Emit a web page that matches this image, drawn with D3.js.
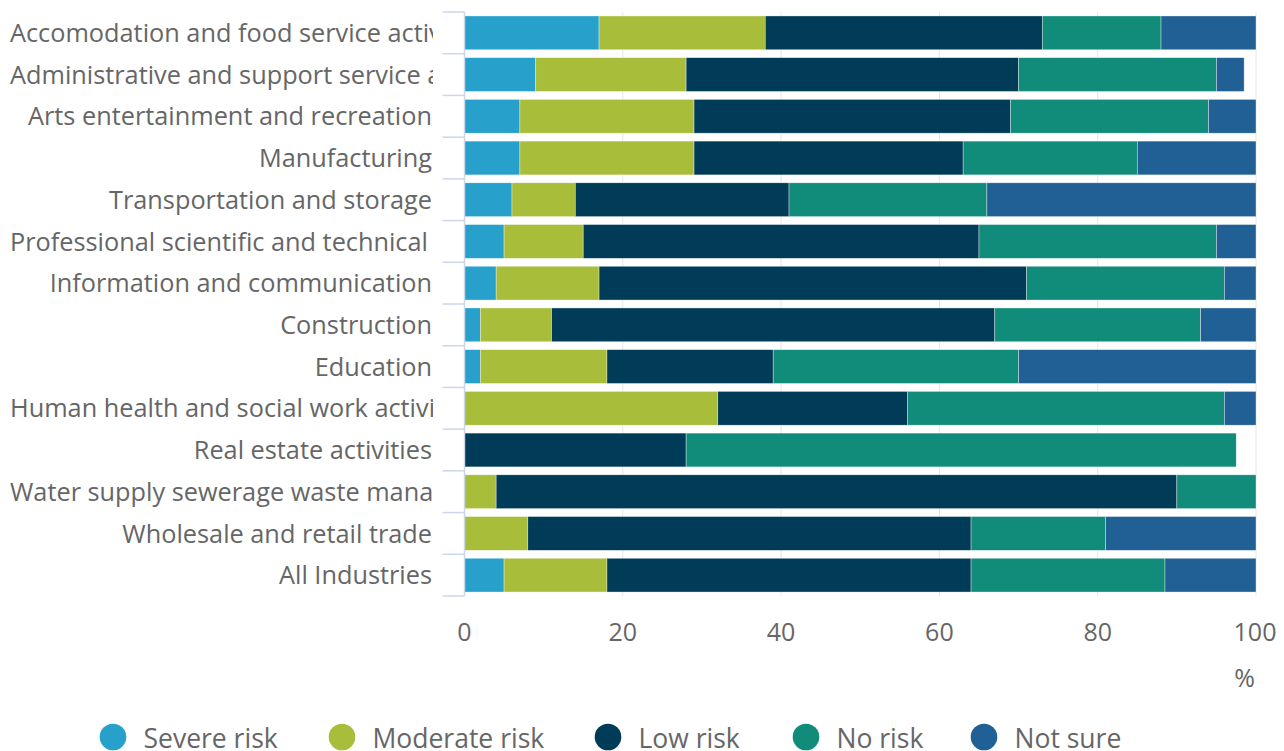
<!DOCTYPE html>
<html>
<head>
<meta charset="utf-8">
<script src="https://cdn.jsdelivr.net/npm/d3@7"></script>
<style>
  html, body { margin: 0; padding: 0; background: #fff; }
  svg { display: block; font-family: "Open Sans", sans-serif; }
</style>
</head>
<body>
<svg id="chart" width="1284" height="751"></svg>
<script>
// Share of businesses by perceived risk level, per industry (%)
const categories = [
  "Accomodation and food service activities",
  "Administrative and support service activities",
  "Arts entertainment and recreation",
  "Manufacturing",
  "Transportation and storage",
  "Professional scientific and technical activities",
  "Information and communication",
  "Construction",
  "Education",
  "Human health and social work activities",
  "Real estate activities",
  "Water supply sewerage waste management",
  "Wholesale and retail trade",
  "All Industries"
];
const seriesNames = ["Severe risk", "Moderate risk", "Low risk", "No risk", "Not sure"];
const severeRisk   = [17, 9, 7, 7, 6, 5, 4, 2, 2, 0, 0, 0, 0, 5];
const moderateRisk = [21, 19, 22, 22, 8, 10, 13, 9, 16, 32, 0, 4, 8, 13];
const lowRisk      = [35, 42, 40, 34, 27, 50, 54, 56, 21, 24, 28, 86, 56, 46];
const noRisk       = [15, 25, 25, 22, 25, 30, 25, 26, 31, 40, 69.5, 10, 17, 24.5];
const notSure      = [12, 3.5, 6, 15, 34, 5, 4, 7, 30, 4, 0, 0, 19, 11.5];
const xTicks = [0, 20, 40, 60, 80, 100];
const colors = ["#27a0cc", "#a8bd3a", "#003c57", "#118c7b", "#206095"];

const seriesValues = [severeRisk, moderateRisk, lowRisk, noRisk, notSure];
const rows = categories.map((c, i) => {
  const r = { category: c };
  seriesNames.forEach((s, k) => { r[s] = seriesValues[k][i]; });
  return r;
});
const stacked = d3.stack().keys(seriesNames)(rows);

const svg = d3.select("#chart");
const plot = { left: 464.5, right: 1256, top: 12, bottom: 596 };

const x = d3.scaleLinear().domain([0, 100]).range([plot.left, plot.right]);
const y = d3.scaleBand().domain(categories).range([plot.top, plot.bottom]).paddingInner(0.19).paddingOuter(0.095);

// vertical grid lines
svg.append("g")
  .selectAll("line")
  .data(xTicks)
  .join("line")
  .attr("x1", d => x(d)).attr("x2", d => x(d))
  .attr("y1", plot.top).attr("y2", plot.bottom)
  .attr("stroke", "#e6e6e6").attr("stroke-width", 1);

// stacked bars
svg.append("g")
  .selectAll("g")
  .data(stacked)
  .join("g")
  .attr("fill", (d, i) => colors[i])
  .selectAll("rect")
  .data(d => d.filter(p => p[1] - p[0] > 0))
  .join("rect")
  .attr("x", d => x(d[0]))
  .attr("width", d => x(d[1]) - x(d[0]))
  .attr("y", d => y(d.data.category))
  .attr("height", y.bandwidth())
  .attr("stroke", "#ffffff").attr("stroke-width", 0.6).attr("stroke-opacity", 0.6);

// category axis: line plus ticks between categories
const axisColor = "#ccd6eb";
const yAxis = svg.append("g");
yAxis.append("line")
  .attr("x1", plot.left).attr("x2", plot.left)
  .attr("y1", plot.top).attr("y2", plot.bottom)
  .attr("stroke", axisColor).attr("stroke-width", 1.5);
const boundaries = d3.range(categories.length + 1).map(i => plot.top + i * y.step());
yAxis.selectAll("line.tick")
  .data(boundaries)
  .join("line")
  .attr("class", "tick")
  .attr("x1", plot.left - 22).attr("x2", plot.left)
  .attr("y1", d => d).attr("y2", d => d)
  .attr("stroke", axisColor).attr("stroke-width", 1.5);

// category labels, clipped at the axis
const labelRight = 432;
svg.append("defs").append("clipPath").attr("id", "labelClip")
  .append("rect").attr("x", 0).attr("y", 0).attr("width", labelRight + 1).attr("height", 751);
const labels = svg.append("g").attr("clip-path", "url(#labelClip)")
  .selectAll("text")
  .data(categories)
  .join("text")
  .attr("y", d => y(d) + y.bandwidth() / 2)
  .attr("dy", "0.36em")
  .attr("fill", "#666666")
  .attr("font-size", 25.3)
  .text(d => d);
labels.each(function () {
  const t = d3.select(this);
  const w = this.getComputedTextLength();
  if (w > labelRight - 10) {
    t.attr("x", 10).attr("text-anchor", "start");
  } else {
    t.attr("x", labelRight).attr("text-anchor", "end");
  }
});

// value axis labels
svg.append("g")
  .selectAll("text")
  .data(xTicks)
  .join("text")
  .attr("x", d => (d === 100 ? x(d) - 1 : x(d)))
  .attr("y", 641)
  .attr("text-anchor", "middle")
  .attr("fill", "#666666")
  .attr("font-size", 25)
  .text(d => d);
svg.append("text")
  .attr("x", 1244.5).attr("y", 687)
  .attr("text-anchor", "middle")
  .attr("fill", "#666666")
  .attr("font-size", 25)
  .text("%");

// legend
const legendX = [113, 342, 608, 806, 984];
const legend = svg.append("g")
  .selectAll("g")
  .data(seriesNames)
  .join("g")
  .attr("transform", (d, i) => `translate(${legendX[i]},737)`);
legend.append("circle").attr("r", 13.3).attr("fill", (d, i) => colors[i]);
legend.append("text")
  .attr("x", 30.5).attr("y", 11)
  .attr("fill", "#666666")
  .attr("font-size", 26.5)
  .text(d => d);
</script>
</body>
</html>
